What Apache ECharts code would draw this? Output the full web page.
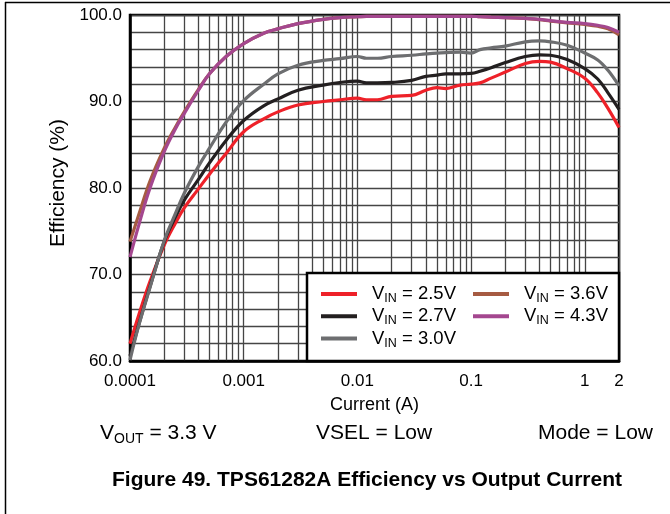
<!DOCTYPE html>
<html>
<head>
<meta charset="utf-8">
<script src="https://cdn.jsdelivr.net/npm/echarts@6/dist/echarts.min.js"></script>
<style>
html,body{margin:0;padding:0;background:#fff;}
#chart{width:670px;height:514px;}
</style>
</head>
<body>
<div id="chart"></div>
<script>
// Output current (A)
const currentA = [1e-4, 1.2e-4, 1.5e-4, 2e-4, 2.5e-4, 3e-4, 4e-4, 5e-4, 7e-4, 1e-3, 1.5e-3, 2e-3, 3e-3, 5e-3, 7e-3, 0.01, 0.012, 0.015, 0.02, 0.03, 0.04, 0.05, 0.06, 0.08, 0.1, 0.12, 0.15, 0.2, 0.3, 0.4, 0.5, 0.7, 1, 1.3, 1.6, 2];
// Efficiency (%) per input voltage
const eff25 = [62.0, 65.4, 69.2, 73.4, 75.9, 77.7, 79.9, 81.6, 84.0, 86.5, 88.0, 88.8, 89.6, 90.0, 90.2, 90.4, 90.2, 90.2, 90.6, 90.7, 91.3, 91.6, 91.5, 91.9, 92.0, 92.15, 92.7, 93.4, 94.4, 94.65, 94.55, 93.8, 92.7, 91.0, 89.2, 87.0];
const eff27 = [60.6, 64.3, 68.6, 73.8, 76.6, 78.6, 81.0, 82.9, 85.5, 87.8, 89.5, 90.3, 91.3, 91.9, 92.2, 92.35, 92.15, 92.15, 92.2, 92.45, 92.9, 93.05, 93.2, 93.2, 93.25, 93.5, 93.9, 94.5, 95.2, 95.4, 95.35, 94.85, 93.8, 92.6, 91.0, 89.1];
const eff30 = [60.1, 64.2, 68.5, 73.9, 77.0, 79.4, 82.5, 84.6, 87.6, 90.1, 92.0, 93.2, 94.2, 94.75, 94.95, 95.2, 95.0, 95.0, 95.2, 95.35, 95.5, 95.6, 95.65, 95.7, 95.6, 96.0, 96.2, 96.4, 96.9, 97.0, 96.9, 96.5, 95.6, 94.8, 93.6, 91.8];
const eff36 = [73.8, 77.0, 80.8, 84.6, 87.0, 88.8, 91.4, 93.2, 95.2, 96.7, 97.9, 98.4, 99.0, 99.5, 99.7, 99.8, 99.85, 99.85, 99.85, 99.85, 99.85, 99.85, 99.85, 99.85, 99.85, 99.8, 99.75, 99.7, 99.6, 99.45, 99.3, 99.1, 98.9, 98.7, 98.4, 97.7];
const eff43 = [72.0, 75.8, 80.0, 84.2, 86.8, 88.6, 91.3, 93.2, 95.2, 96.7, 97.9, 98.4, 99.0, 99.5, 99.7, 99.8, 99.85, 99.85, 99.85, 99.85, 99.85, 99.85, 99.85, 99.85, 99.85, 99.8, 99.75, 99.7, 99.6, 99.5, 99.35, 99.15, 99.0, 98.8, 98.55, 98.0];

const seriesNames = ['2.5V', '2.7V', '3.0V', '3.6V', '4.3V'];
const seriesValues = [eff25, eff27, eff30, eff36, eff43];
const seriesColors = ['#EE2129', '#231F20', '#6D6E70', '#A65B42', '#A4478F'];

const yTicks = [60, 70, 80, 90, 100];
const xLabels = {'0.0001': '0.0001', '0.001': '0.001', '0.01': '0.01', '0.1': '0.1', '1': '1', '2': '2'};

const FONT = '"Liberation Sans", Arial, Helvetica, sans-serif';

const chart = echarts.init(document.getElementById('chart'), null, {renderer: 'canvas'});

const series = seriesNames.map((n, i) => ({
  name: n,
  type: 'line',
  data: currentA.map((x, j) => [x, seriesValues[i][j]]),
  showSymbol: false,
  smooth: 0.4,
  lineStyle: {color: seriesColors[i], width: 3.2},
  itemStyle: {color: seriesColors[i]},
  z: 2 + i * 0.1
}));

const legendText = {
  fontFamily: FONT, fontSize: 18.5, color: '#000', lineHeight: 22,
  padding: [0, 0, 0, 10],
  rich: {
    sub: {fontFamily: FONT, fontSize: 12.5, lineHeight: 8, verticalAlign: 'bottom', color: '#000'}
  }
};

const subStyle = {fontFamily: FONT, fontSize: 21, fontWeight: 'normal', color: '#000', lineHeight: 26,
  rich: {sub: {fontFamily: FONT, fontSize: 14, lineHeight: 9, verticalAlign: 'bottom', color: '#000'}}};

chart.setOption({
  animation: false,
  backgroundColor: '#fff',
  textStyle: {fontFamily: FONT},
  grid: {left: 130, top: 15, width: 489, height: 346, show: true, borderColor: '#000', borderWidth: 2.5, backgroundColor: 'transparent', containLabel: false},
  xAxis: {
    type: 'log', logBase: 10, min: 0.0001, max: 2,
    name: 'Current (A)', nameLocation: 'middle', nameGap: 35,
    nameTextStyle: {fontFamily: FONT, fontSize: 18, color: '#000'},
    axisLine: {show: true, lineStyle: {color: '#000', width: 2.5}},
    axisTick: {show: false},
    axisLabel: {
      show: true, showMaxLabel: true, showMinLabel: true, margin: 12,
      fontFamily: FONT, fontSize: 17, color: '#000',
      formatter: v => { const k = String(parseFloat(Number(v).toPrecision(6))); return xLabels[k] !== undefined ? xLabels[k] : ''; }
    },
    splitLine: {show: true, lineStyle: {color: '#454545', width: 1.3}},
    minorTick: {show: false, splitNumber: 9},
    minorSplitLine: {show: true, lineStyle: {color: '#454545', width: 1.3}}
  },
  yAxis: {
    type: 'value', min: 60, max: 100, interval: 10,
    name: 'Efficiency (%)', nameLocation: 'middle', nameGap: 58, nameRotate: 90,
    nameTextStyle: {fontFamily: FONT, fontSize: 21, color: '#000', padding: [0, 0, 0, 10]},
    axisLine: {show: true, lineStyle: {color: '#000', width: 2.5}},
    axisTick: {show: false},
    axisLabel: {fontFamily: FONT, fontSize: 17, color: '#000', margin: 8, formatter: v => yTicks.includes(v) ? v.toFixed(1) : ''},
    splitLine: {show: true, lineStyle: {color: '#454545', width: 1.3}},
    minorTick: {show: false, splitNumber: 5},
    minorSplitLine: {show: true, lineStyle: {color: '#454545', width: 1.3}}
  },
  legend: [
    {data: seriesNames.slice(0, 3), orient: 'vertical', left: 321, top: 283, padding: 0, itemGap: 0.3,
     icon: 'rect', itemWidth: 36, itemHeight: 4, z: 6,
     formatter: n => 'V{sub|IN} = ' + n, textStyle: legendText},
    {data: seriesNames.slice(3), orient: 'vertical', left: 473, top: 283, padding: 0, itemGap: 0.3,
     icon: 'rect', itemWidth: 36, itemHeight: 4, z: 6,
     formatter: n => 'V{sub|IN} = ' + n, textStyle: legendText}
  ],
  title: [
    {text: 'V{sub|OUT} = 3.3 V', left: 100, top: 420, padding: 0, textStyle: subStyle},
    {text: 'VSEL = Low', left: 316, top: 420, padding: 0, textStyle: subStyle},
    {text: 'Mode = Low', left: 538, top: 420, padding: 0, textStyle: subStyle},
    {text: 'Figure 49. TPS61282A Efficiency vs Output Current', left: 367, textAlign: 'center', top: 468, padding: 0,
     textStyle: {fontFamily: FONT, fontSize: 21, fontWeight: 'bold', color: '#000', lineHeight: 24}}
  ],
  graphic: [
    {type: 'rect', shape: {x: 307, y: 273, width: 312, height: 88}, style: {fill: '#fff', stroke: '#000', lineWidth: 2.5}, z: 5},
    {type: 'line', shape: {x1: 5, y1: 2.5, x2: 670, y2: 2.5}, style: {stroke: '#000', lineWidth: 1.5}, z: 5},
    {type: 'line', shape: {x1: 5.5, y1: 2, x2: 5.5, y2: 514}, style: {stroke: '#000', lineWidth: 1.5}, z: 5}
  ],
  series: series
});
</script>
</body>
</html>
